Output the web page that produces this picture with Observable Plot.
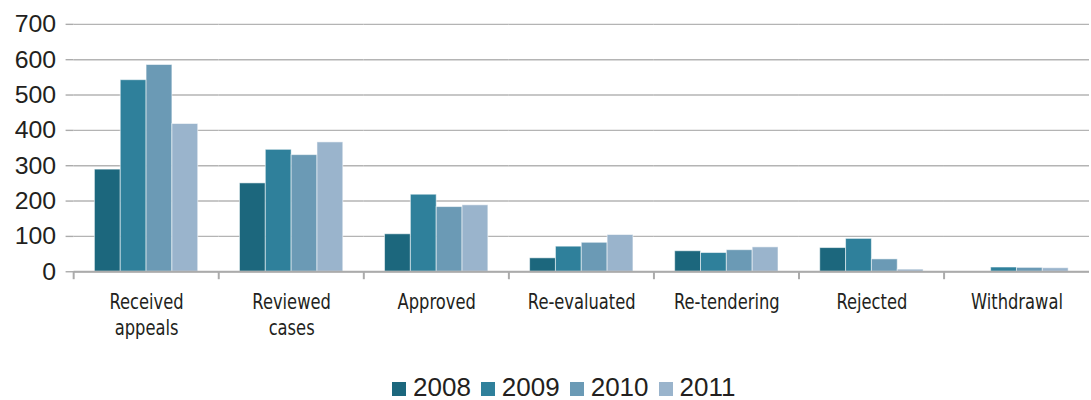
<!DOCTYPE html>
<html>
<head>
<meta charset="utf-8">
<script src="https://cdn.jsdelivr.net/npm/d3@7"></script>
<script src="https://cdn.jsdelivr.net/npm/@observablehq/plot@0.6"></script>
<style>
  html, body { margin: 0; padding: 0; background: #fff; overflow: hidden; width: 1091px; height: 400px; }
  #chart svg { display: block; }
  #legend { position: absolute; left: 392px; top: 372px; display: flex; align-items: center;
    font-family: "Liberation Sans", Arial, sans-serif; font-size: 26px; color: #231f20; line-height: 30px; }
  #legend .item { display: flex; align-items: center; margin-right: 10px; }
  #legend .sw { width: 14px; height: 14px; margin-right: 7px; margin-top: 3px; }
</style>
</head>
<body>
<div id="chart"></div>
<div id="legend"></div>
<script>
const categories = ["Received appeals", "Reviewed cases", "Approved", "Re-evaluated", "Re-tendering", "Rejected", "Withdrawal"];
const categoryLabels = ["Received\nappeals", "Reviewed\ncases", "Approved", "Re-evaluated", "Re-tendering", "Rejected", "Withdrawal"];
const years = ["2008", "2009", "2010", "2011"];
const values2008 = [289, 250, 106, 38, 58, 67, 0];
const values2009 = [542, 345, 218, 71, 53, 93, 12];
const values2010 = [585, 330, 183, 82, 61, 35, 11];
const values2011 = [418, 366, 188, 104, 69, 6, 10];
const yTicks = [0, 100, 200, 300, 400, 500, 600, 700];
const colors = ["#1c677d", "#2f809b", "#6b9ab5", "#9ab4cc"];

const series = [values2008, values2009, values2010, values2011];
const data = [];
categories.forEach((c, i) => {
  years.forEach((y, j) => data.push({category: c, year: y, value: series[j][i]}));
});
const labelOf = new Map(categories.map((c, i) => [c, categoryLabels[i]]));

const W = 1098, ML = 71;
const step = (W - ML) / categories.length;
const grey = "#ababab";

const chart = Plot.plot({
  width: W,
  height: 345,
  marginLeft: ML,
  marginRight: 0,
  marginTop: 24,
  marginBottom: 72,
  style: {background: "#fff", color: "#231f20"},
  fx: {domain: categories, padding: 0, label: null},
  x: {domain: years, paddingInner: 0, paddingOuter: 0.74, axis: null},
  y: {domain: [0, 700], label: null},
  color: {domain: years, range: colors},
  marks: [
    Plot.gridY(yTicks, {stroke: "#b4b4b4", strokeOpacity: 1, strokeWidth: 1.4}),
    Plot.axisY(yTicks, {tickSize: 8, tickPadding: 10, fontSize: 25, stroke: grey, strokeWidth: 1.4,
      fill: "#231f20", fontFamily: "Liberation Sans, Arial, sans-serif", label: null, line: true}),
    Plot.barY(data, {fx: "category", x: "year", y: "value", fill: "year",
      stroke: "#fff", strokeOpacity: 0.55, strokeWidth: 1}),
    Plot.ruleY([0], {stroke: grey, strokeWidth: 2}),
    Plot.axisFx({anchor: "bottom", tickSize: 0, tickPadding: 20, fontSize: 22, lineHeight: 1.15,
      fontFamily: "DejaVu Sans Condensed, sans-serif", fill: "#231f20",
      tickFormat: d => labelOf.get(d), label: null}),
    Plot.axisFx({anchor: "bottom", tickSize: 8, dx: -step / 2, stroke: grey, strokeWidth: 2,
      tickFormat: () => "", label: null})
  ]
});
document.getElementById("chart").append(chart);

// condense the category labels horizontally (the original uses a condensed face)
chart.querySelectorAll("text").forEach(t => {
  if (!/DejaVu Sans Condensed/.test(t.getAttribute("font-family") || t.closest("[font-family]")?.getAttribute("font-family") || "")) return;
  const b = t.getBBox();
  const cx = b.x + b.width / 2;
  const tr = t.getAttribute("transform") || "";
  t.setAttribute("transform", `${tr} translate(${cx},0) scale(0.83,1) translate(${-cx},0)`);
});

const legend = document.getElementById("legend");
years.forEach((y, i) => {
  const item = document.createElement("div");
  item.className = "item";
  const sw = document.createElement("span");
  sw.className = "sw";
  sw.style.background = colors[i];
  const t = document.createElement("span");
  t.textContent = y;
  item.append(sw, t);
  legend.append(item);
});
</script>
</body>
</html>
